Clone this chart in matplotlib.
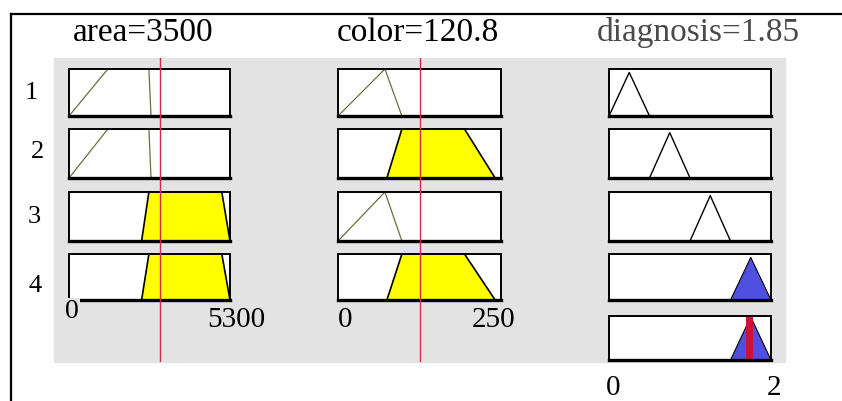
import numpy as np
import matplotlib.pyplot as plt
from matplotlib.patches import Rectangle
from matplotlib.lines import Line2D

W, H = 842, 401

# inputs / output ranges and values
area_range = [0, 5300]
color_range = [0, 250]
diag_range = [0, 2]

area_title = "area=3500"
color_title = "color=120.8"
diag_title = "diagnosis=1.85"

area_line = 3000
color_line = 125
diag_line = 1.73

# trapezoid membership functions [a, b, c, d]
area_mfs = [[0, 1280, 2630, 2700],
            [0, 1280, 2630, 2700],
            [2390, 2630, 5030, 5300],
            [2390, 2630, 5030, 5300]]
color_mfs = [[0, 72, 72, 98],
             [75, 98, 194, 241],
             [0, 72, 72, 98],
             [75, 98, 194, 241]]
# triangular output functions [a, b, c]
diag_mfs = [[0, 0.25, 0.5],
            [0.5, 0.75, 1.0],
            [1.0, 1.25, 1.5],
            [1.5, 1.75, 2.0]]
aggregate_mf = [1.5, 1.75, 2.0]

area_fired = [False, False, True, True]
color_fired = [False, True, False, True]
diag_fired = [False, False, False, True]

rule_labels = ["1", "2", "3", "4"]

GRAY = "#e3e3e3"
YELLOW = "#ffff00"
BLUE = "#5050e0"
OLIVE = "#6e6e40"
RED = "#d42a4a"

plt.rcParams['font.family'] = ['Liberation Serif', 'DejaVu Serif']


def px(x0, y0, x1, y1):
    '''pixel box -> figure fraction rect'''
    return [x0 / W, 1 - y1 / H, (x1 - x0) / W, (y1 - y0) / H]


def box_axes(fig, rect, xr, ytop=1.0):
    ax = fig.add_axes(rect)
    ax.set_xlim(xr)
    ax.set_ylim(0, ytop)
    ax.set_xticks([])
    ax.set_yticks([])
    ax.set_facecolor("white")
    for s in ax.spines.values():
        s.set_linewidth(1.4)
    ax.spines['bottom'].set_linewidth(2.4)
    ax.set_zorder(2)
    return ax


def draw_trap(ax, mf, fired):
    xs = [mf[0], mf[1], mf[2], mf[3]]
    ys = [0, 1, 1, 0]
    if fired:
        ax.fill(xs, ys, color=YELLOW, lw=0)
        ax.plot(xs, ys, color="black", lw=1.2, clip_on=False)
    else:
        ax.plot(xs, ys, color=OLIVE, lw=0.9)


def draw_tri(ax, mf, fired):
    xs = [mf[0], mf[1], mf[2]]
    ys = [0, 1, 0]
    if fired:
        ax.fill(xs, ys, color=BLUE, lw=0)
        ax.plot(xs, ys, color="black", lw=0.8)
    else:
        ax.plot(xs, ys, color="black", lw=1.0)


fig = plt.figure(figsize=(W / 100, H / 100), dpi=100)

# outer frame and grey panel
fig.add_artist(Line2D([11 / W, 1], [1 - 14 / H] * 2, color="black", lw=1.6))
fig.add_artist(Line2D([11 / W] * 2, [1 - 14 / H, 0], color="black", lw=1.6))
fig.add_artist(Rectangle((54 / W, 1 - 362 / H), (785 - 54) / W, (362 - 58) / H,
                         transform=fig.transFigure, color=GRAY, zorder=0))

rows_y = [(69, 116), (129, 178), (192, 241), (254, 300)]
area_x = (69, 230)
color_x = (338, 501)
diag_x = (609, 771)

for i, (y0, y1) in enumerate(rows_y):
    ax = box_axes(fig, px(area_x[0], y0, area_x[1], y1), area_range)
    draw_trap(ax, area_mfs[i], area_fired[i])
    ax = box_axes(fig, px(color_x[0], y0, color_x[1], y1), color_range)
    draw_trap(ax, color_mfs[i], color_fired[i])
    ax = box_axes(fig, px(diag_x[0], y0, diag_x[1], y1), diag_range, 1.08)
    draw_tri(ax, diag_mfs[i], diag_fired[i])

# aggregated output
ax = box_axes(fig, px(diag_x[0], 316, diag_x[1], 360), diag_range, 1.02)
draw_tri(ax, aggregate_mf, True)
ax.axvline(diag_line, color="#d0103a", lw=5, ymax=1.0)

# input value lines across the columns
for xr, (xa, xb), val in [(area_range, area_x, area_line),
                          (color_range, color_x, color_line)]:
    ov = fig.add_axes(px(xa, 58, xb, 362))
    ov.set_xlim(xr)
    ov.set_ylim(0, 1)
    ov.axis("off")
    ov.set_zorder(5)
    ov.axvline(val, color=RED, lw=1.0)


def ftext(x, y, s, size, color="black", **kw):
    fig.text(x / W, 1 - y / H, s, fontsize=size, color=color,
             ha="center", va="baseline", **kw)


ftext(143, 41, area_title, 24)
ftext(418, 41, color_title, 24)
ftext(698, 41, diag_title, 24, color="#4a4a4a")

for lab, x, y in zip(rule_labels, [31, 37, 34, 35], [99, 158, 223, 292]):
    ftext(x, y, lab, 19)

t = fig.text(72 / W, 1 - 318 / H, "0", fontsize=20, ha="center", va="baseline",
             zorder=10, bbox=dict(facecolor=GRAY, edgecolor="none", pad=1))
ftext(236, 327, "5300", 21)
ftext(345, 327, "0", 21)
ftext(494, 327, "250", 21)
ftext(613, 395, "0", 21)
ftext(774, 395, "2", 21)

fig.savefig("out.png", dpi=100)
